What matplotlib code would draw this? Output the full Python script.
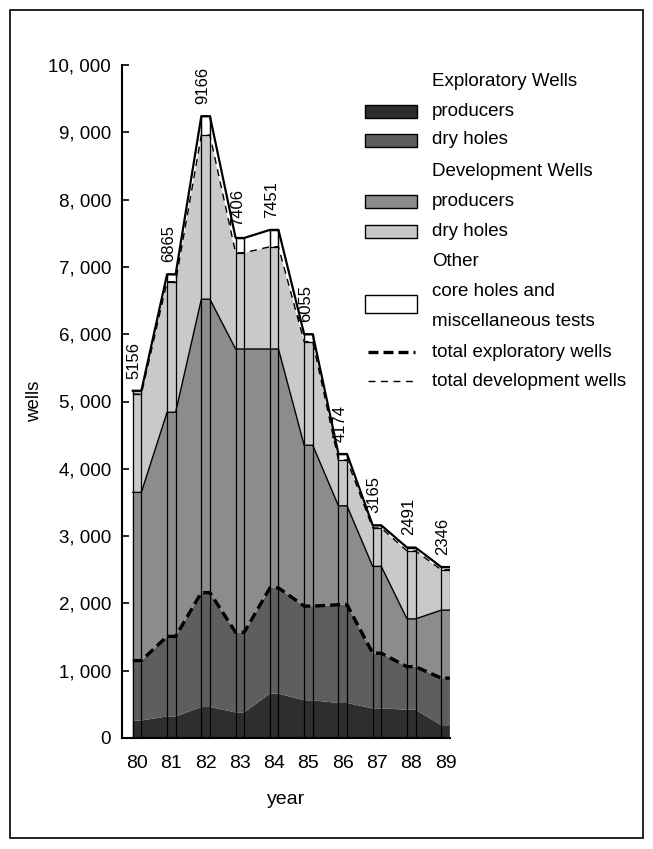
import numpy as np
import matplotlib
matplotlib.use("agg")
import matplotlib.pyplot as plt
from matplotlib.patches import Rectangle
from matplotlib.lines import Line2D
from matplotlib.ticker import FuncFormatter

plt.rcParams['font.family'] = ['Liberation Sans', 'DejaVu Sans']

# well counts
years = [80, 81, 82, 83, 84, 85, 86, 87, 88, 89]
exp_producers = [260, 320, 460, 380, 660, 560, 520, 440, 420, 190]
exp_dry_holes = [890, 1190, 1700, 1190, 1570, 1400, 1460, 820, 640, 700]
dev_producers = [2500, 3330, 4360, 4210, 3550, 2390, 1470, 1290, 710, 1010]
dev_dry_holes = [1460, 1940, 2440, 1430, 1520, 1540, 680, 570, 1010, 600]
core_holes = [50, 110, 280, 220, 250, 110, 90, 40, 50, 40]
total_labels = ["5156", "6865", "9166", "7406", "7451", "6055", "4174", "3165", "2491", "2346"]

colors = ['#2e2e2e', '#5e5e5e', '#8c8c8c', '#c9c9c9', '#ffffff']
W, H = 653, 849


def fx(px):
    return px / W


def fy(py):
    return 1 - py / H


fig = plt.figure(figsize=(6.53, 8.49), dpi=100)
ax = fig.add_axes([fx(122), fy(738), fx(450) - fx(122), fy(65) - fy(738)])

yrs = np.array(years, dtype=float)
bw = 0.25
# each year is a narrow flat bar; the stack is joined linearly between bars
xs = np.column_stack([yrs - bw / 2, yrs + bw / 2]).ravel()
layers = [exp_producers, exp_dry_holes, dev_producers, dev_dry_holes, core_holes]
stack = [np.repeat(np.array(l, dtype=float), 2) for l in layers]
ax.stackplot(xs, *stack, colors=colors, linewidth=0)

cum = np.cumsum(np.array(layers, dtype=float), axis=0)
exp_total, devp_top, dev_top, total = cum[1], cum[2], cum[3], cum[4]

ax.plot(xs, np.repeat(total, 2), color='black', lw=1.6)
ax.plot(xs, np.repeat(devp_top, 2), color='black', lw=1.0)
ax.plot(xs, np.repeat(exp_total, 2), color='black', lw=2.4, ls=(0, (3, 1.5)))
ax.plot(xs, np.repeat(dev_top, 2), color='black', lw=1.0, ls=(0, (5, 4)))

# bar outlines at each year
ax.bar(yrs, total, width=bw, fill=False, edgecolor='black', lw=0.9)
ax.bar(yrs, core_holes, bottom=dev_top, width=bw, fill=False, edgecolor='black', lw=0.9)

for x, t, lab in zip(yrs, total, total_labels):
    ax.text(x - 0.08, t + 180, lab, rotation=90, ha='center', va='bottom', fontsize=12)

ax.set_xlim(79.56, 89.13)
ax.set_ylim(0, 10000)
ax.set_xticks(years)
ax.set_xticklabels([str(y) for y in years])
ax.set_yticks(range(0, 10001, 1000))
ax.yaxis.set_major_formatter(FuncFormatter(lambda v, p: f"{int(v):,}".replace(",", ", ")))
ax.tick_params(axis='y', direction='in', length=5, width=1.2, labelsize=13.5, pad=8)
ax.tick_params(axis='x', length=0, labelsize=14, pad=12)
for s in ['top', 'right']:
    ax.spines[s].set_visible(False)
for s in ['left', 'bottom']:
    ax.spines[s].set_linewidth(1.5)
ax.set_xlabel('year', fontsize=14, labelpad=14)
ax.set_ylabel('wells', fontsize=13.5, labelpad=4)

# hand-placed legend
rows = [
    ("Exploratory Wells", None, 82),
    ("producers", colors[0], 111),
    ("dry holes", colors[1], 140),
    ("Development Wells", None, 171),
    ("producers", colors[2], 201),
    ("dry holes", colors[3], 231),
    ("Other", None, 261),
    ("core holes and", None, 292),
    ("miscellaneous tests", None, 322),
    ("total exploratory wells", None, 352),
    ("total development wells", None, 381),
]
for text, col, py in rows:
    fig.text(fx(432), fy(py), text, fontsize=13.5, va='center', ha='left')
    if col is not None:
        fig.patches.append(Rectangle((fx(365), fy(py + 6.5)), fx(417) - fx(365), fy(py - 6.5) - fy(py + 6.5),
                                     transform=fig.transFigure, facecolor=col, edgecolor='black', lw=1))
fig.patches.append(Rectangle((fx(365), fy(313)), fx(417) - fx(365), fy(295) - fy(313),
                             transform=fig.transFigure, facecolor='white', edgecolor='black', lw=1))
fig.lines.append(Line2D([fx(368), fx(415)], [fy(352), fy(352)], transform=fig.transFigure,
                        color='black', lw=2.4, ls=(0, (3, 1.5))))
fig.lines.append(Line2D([fx(368), fx(415)], [fy(381), fy(381)], transform=fig.transFigure,
                        color='black', lw=1.0, ls=(0, (5, 4))))

# outer frame
fig.patches.append(Rectangle((fx(10), fy(838)), fx(643) - fx(10), fy(10) - fy(838),
                             transform=fig.transFigure, fill=False, edgecolor='black', lw=1.2))

fig.savefig('out.png', dpi=100)
plt.close(fig)
